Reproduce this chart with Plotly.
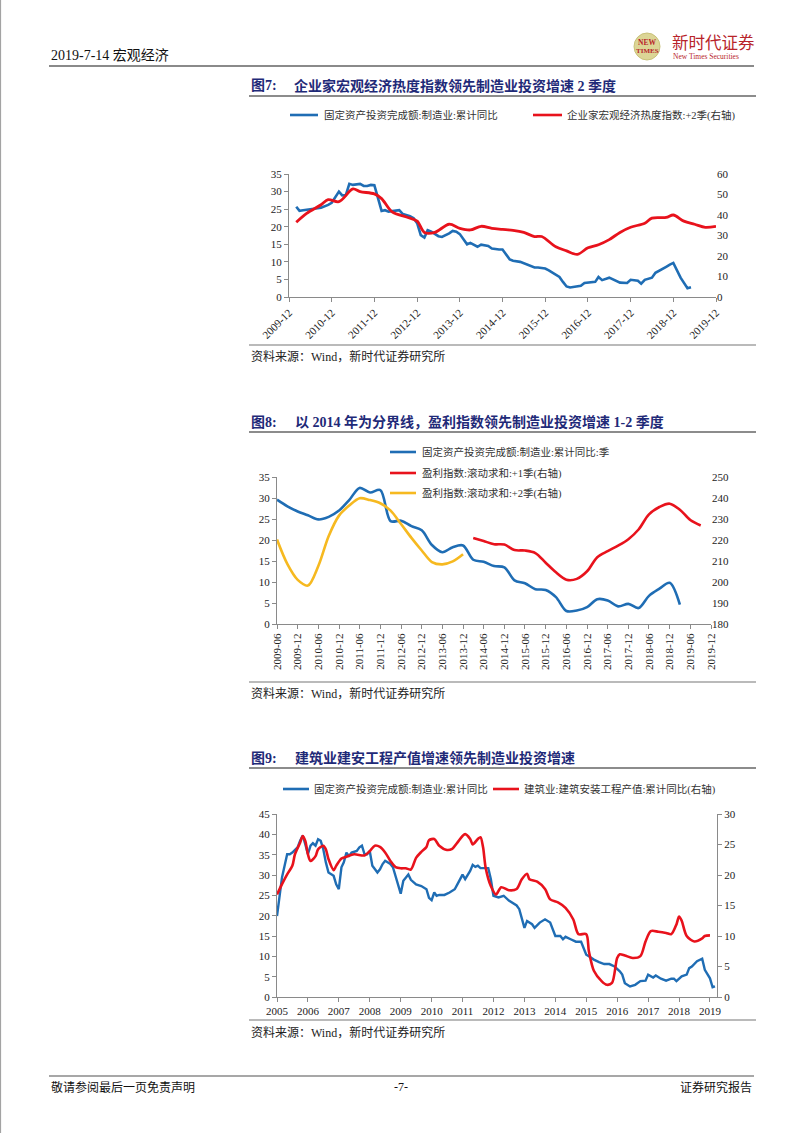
import plotly.graph_objects as go

W, H = 802, 1133

# ---------------- Chart 1 data (图7) ----------------
c1_fai_dates = ["2010-02", "2010-03", "2010-04", "2010-07", "2010-09", "2010-11", "2010-12", "2011-02",
                "2011-03", "2011-04", "2011-05", "2011-06", "2011-08", "2011-09", "2011-10", "2011-11",
                "2011-12", "2012-02", "2012-03", "2012-04", "2012-06", "2012-07", "2012-08", "2012-10",
                "2012-11", "2012-12", "2013-01", "2013-02", "2013-03", "2013-04", "2013-06", "2013-07",
                "2013-09", "2013-10", "2013-11", "2013-12", "2014-02", "2014-03", "2014-05", "2014-06",
                "2014-08", "2014-09", "2014-11", "2014-12", "2015-02", "2015-03", "2015-05", "2015-07",
                "2015-09", "2015-10", "2015-12", "2016-01", "2016-03", "2016-04", "2016-05", "2016-06",
                "2016-07", "2016-09", "2016-10", "2016-11", "2017-01", "2017-02", "2017-03", "2017-04",
                "2017-06", "2017-08", "2017-09", "2017-11", "2017-12", "2018-02", "2018-03", "2018-04",
                "2018-06", "2018-07", "2018-08", "2018-10", "2018-11", "2018-12", "2019-02", "2019-03",
                "2019-04", "2019-05"]
c1_fai = [25.7, 24.5, 24.7, 25.0, 25.4, 26.2, 26.8, 30.0,
          28.9, 29.0, 32.2, 31.9, 32.2, 31.6, 31.6, 31.9,
          31.8, 24.5, 24.7, 24.3, 24.5, 24.7, 23.6, 23.0,
          22.4, 21.0, 17.6, 16.9, 19.0, 18.6, 17.3, 17.1,
          18.1, 18.8, 18.6, 17.9, 15.0, 15.4, 14.3, 14.9,
          14.5, 13.8, 13.5, 13.5, 10.7, 10.3, 10.0, 9.2,
          8.4, 8.4, 8.1, 7.6, 6.2, 5.7, 4.3, 3.0,
          2.7, 2.9, 3.2, 4.0, 4.3, 4.3, 5.7, 4.8,
          5.5, 4.6, 4.1, 4.0, 4.9, 4.6, 3.8, 4.9,
          5.5, 6.9, 7.4, 8.6, 9.2, 9.7, 5.5, 4.0,
          2.5, 2.8]
c1_heat_dates = ["2010-02", "2010-05", "2010-09", "2010-11", "2011-02", "2011-06", "2011-08", "2011-12",
                 "2012-02", "2012-05", "2012-09", "2012-12", "2013-02", "2013-05", "2013-09", "2013-12",
                 "2014-03", "2014-06", "2014-09", "2014-12", "2015-03", "2015-06", "2015-09", "2015-11",
                 "2016-03", "2016-06", "2016-09", "2016-12", "2017-03", "2017-06", "2017-09", "2017-12",
                 "2018-04", "2018-06", "2018-10", "2018-12", "2019-03", "2019-06", "2019-09", "2019-12"]
c1_heat = [36.5, 40.8, 45.0, 47.5, 46.5, 52.7, 51.4, 50.3,
           48.0, 41.5, 39.0, 37.0, 31.5, 31.5, 35.5, 33.5,
           32.7, 34.5, 33.5, 33.0, 32.5, 31.5, 29.5, 29.5,
           24.5, 22.5, 20.8, 24.0, 25.5, 28.0, 31.5, 34.0,
           36.0, 38.5, 38.8, 40.0, 37.0, 35.5, 34.0, 34.5]

# ---------------- Chart 2 data (图8) ----------------
c2_fai_dates = ["2009-06", "2009-09", "2009-12", "2010-03", "2010-06", "2010-09", "2010-12", "2011-03",
                "2011-06", "2011-09", "2011-12", "2012-03", "2012-06", "2012-09", "2012-12", "2013-03",
                "2013-06", "2013-09", "2013-12", "2014-03", "2014-06", "2014-09", "2014-12", "2015-03",
                "2015-06", "2015-09", "2015-12", "2016-03", "2016-06", "2016-09", "2016-12", "2017-03",
                "2017-06", "2017-09", "2017-12", "2018-03", "2018-06", "2018-09", "2018-12", "2019-03"]
c2_fai = [29.6, 28.0, 26.8, 25.9, 24.9, 25.5, 27.0, 29.5,
          32.4, 31.3, 31.9, 24.5, 24.6, 23.3, 22.3, 18.8,
          17.1, 18.3, 18.7, 15.3, 14.8, 13.8, 13.5, 10.4,
          9.7, 8.3, 8.1, 6.4, 3.1, 3.2, 4.0, 5.9,
          5.6, 4.2, 4.8, 3.8, 6.7, 8.4, 9.8, 4.6]
c2_profit2_dates = ["2009-06", "2009-09", "2009-12", "2010-03", "2010-06", "2010-09", "2010-12", "2011-03",
                    "2011-06", "2011-09", "2011-12", "2012-03", "2012-06", "2012-09", "2012-12", "2013-03",
                    "2013-06", "2013-09", "2013-12"]
c2_profit2 = [220.2, 208.5, 201.0, 198.3, 207.6, 221.9, 231.6, 236.4,
              239.9, 239.0, 237.5, 234.0, 227.6, 221.0, 215.0, 209.5,
              208.4, 209.8, 213.2]
c2_profit1_dates = ["2014-03", "2014-06", "2014-09", "2014-12", "2015-03", "2015-06", "2015-09", "2015-12",
                    "2016-03", "2016-06", "2016-09", "2016-12", "2017-03", "2017-06", "2017-09", "2017-12",
                    "2018-03", "2018-06", "2018-09", "2018-12", "2019-03", "2019-06", "2019-09"]
c2_profit1 = [221.0, 219.5, 218.0, 217.8, 215.2, 215.0, 213.8, 209.2,
              204.6, 201.1, 201.5, 205.1, 211.8, 214.7, 217.3, 220.4,
              225.0, 232.2, 235.7, 237.3, 234.4, 229.5, 226.9]

# ---------------- Chart 3 data (图9) ----------------
c3_fai_dates = ["2005-01", "2005-02", "2005-03", "2005-05", "2005-06", "2005-07", "2005-09", "2005-10",
                "2005-11", "2005-12", "2006-01", "2006-02", "2006-03", "2006-04", "2006-05", "2006-06",
                "2006-07", "2006-08", "2006-09", "2006-11", "2006-12", "2007-01", "2007-02", "2007-03",
                "2007-04", "2007-05", "2007-06", "2007-08", "2007-09", "2007-10", "2007-11", "2007-12",
                "2008-01", "2008-02", "2008-04", "2008-05", "2008-06", "2008-07", "2008-09", "2008-10",
                "2008-11", "2009-01", "2009-02", "2009-04", "2009-05", "2009-07", "2009-09", "2009-11",
                "2009-12", "2010-01", "2010-02", "2010-03", "2010-04", "2010-06", "2010-08", "2010-10",
                "2010-11", "2011-01", "2011-02", "2011-04", "2011-05", "2011-06", "2011-07", "2011-08",
                "2011-10", "2011-11", "2011-12", "2012-01", "2012-03", "2012-05", "2012-07", "2012-10",
                "2012-11", "2013-01", "2013-02", "2013-04", "2013-05", "2013-07", "2013-09", "2013-11",
                "2014-01", "2014-03", "2014-04", "2014-05", "2014-07", "2014-09", "2014-11", "2015-01",
                "2015-02", "2015-04", "2015-06", "2015-08", "2015-10", "2015-12", "2016-02", "2016-03",
                "2016-04", "2016-06", "2016-08", "2016-10", "2016-12", "2017-01", "2017-03", "2017-04",
                "2017-06", "2017-08", "2017-10", "2017-11", "2017-12", "2018-02", "2018-04", "2018-05",
                "2018-06", "2018-08", "2018-10", "2018-11", "2019-01", "2019-02", "2019-03"]
c3_fai = [19.9, 25.3, 29.4, 35.1, 35.1, 35.5, 36.8, 38.4,
          39.7, 37.6, 35.1, 37.2, 37.8, 37.2, 38.8, 38.4,
          36.4, 33.1, 30.6, 29.8, 27.7, 26.5, 31.9, 33.1,
          35.5, 34.7, 35.5, 35.9, 36.8, 37.2, 35.1, 35.1,
          35.9, 32.3, 30.6, 31.4, 32.7, 33.5, 32.7, 31.9,
          29.8, 25.4, 28.6, 30.1, 28.8, 27.7, 27.3, 26.5,
          24.4, 23.8, 25.7, 24.9, 25.1, 25.1, 25.7, 26.5,
          27.7, 30.1, 29.0, 31.0, 32.5, 32.0, 32.3, 31.7,
          31.7, 31.7, 29.0, 24.9, 24.5, 24.9, 23.7, 22.5,
          21.6, 17.0, 18.7, 17.9, 17.0, 18.3, 19.1, 18.3,
          15.0, 15.0, 14.2, 14.8, 14.2, 13.6, 13.6, 10.4,
          10.0, 9.2, 8.6, 8.1, 8.1, 7.5, 6.3, 5.5,
          3.4, 2.6, 3.0, 3.9, 4.0, 5.5, 4.8, 5.3,
          4.5, 4.0, 4.5, 4.5, 3.9, 5.1, 5.5, 7.1,
          7.5, 8.8, 9.4, 6.7, 4.6, 2.4, 2.6]
c3_cons_dates = ["2005-01", "2005-03", "2005-05", "2005-07", "2005-08", "2005-10", "2005-11", "2005-12",
                 "2006-01", "2006-02", "2006-04", "2006-05", "2006-07", "2006-08", "2006-09", "2006-11",
                 "2006-12", "2007-02", "2007-04", "2007-07", "2007-11", "2008-01", "2008-03", "2008-05",
                 "2008-07", "2008-09", "2008-11", "2009-01", "2009-03", "2009-05", "2009-07", "2009-09",
                 "2009-11", "2009-12", "2010-02", "2010-04", "2010-07", "2010-09", "2010-11", "2011-01",
                 "2011-02", "2011-04", "2011-05", "2011-07", "2011-08", "2011-09", "2011-10", "2011-12",
                 "2012-02", "2012-04", "2012-07", "2012-10", "2012-12", "2013-02", "2013-03", "2013-06",
                 "2013-09", "2013-11", "2014-02", "2014-05", "2014-08", "2014-10", "2015-01", "2015-02",
                 "2015-04", "2015-07", "2015-09", "2015-11", "2016-01", "2016-02", "2016-04", "2016-07",
                 "2016-10", "2016-12", "2017-02", "2017-05", "2017-08", "2017-10", "2017-12", "2018-01",
                 "2018-02", "2018-04", "2018-07", "2018-10", "2018-11", "2019-01"]
c3_cons = [16.8, 18.5, 20.1, 21.5, 23.4, 25.3, 26.4, 25.6,
           23.4, 22.3, 23.1, 24.2, 24.8, 24.2, 22.6, 20.8,
           21.5, 22.7, 23.0, 23.4, 23.2, 23.9, 24.8, 24.6,
           23.7, 22.3, 21.3, 21.1, 21.1, 20.9, 22.8, 23.8,
           24.6, 25.7, 25.9, 24.8, 24.1, 24.3, 25.3, 26.4,
           26.7, 25.9, 25.0, 25.9, 26.2, 24.5, 21.2, 18.2,
           16.8, 18.0, 17.5, 17.7, 19.3, 20.2, 19.3, 18.9,
           17.7, 16.0, 15.5, 14.6, 12.7, 10.3, 10.3, 7.5,
           4.3, 2.6, 2.0, 2.3, 6.4, 7.0, 6.8, 6.4,
           6.7, 9.1, 10.8, 10.7, 10.5, 10.3, 11.9, 13.2,
           12.5, 10.0, 9.1, 9.6, 10.0, 10.1]

# ---------------- styling ----------------
BLUE = "#1F6DB4"
RED = "#E8121C"
YELLOW = "#F6B920"
NAVY = "#1F2A78"
AXIS = "#8A8A8A"
TXT = "#222222"
SERIF = "Liberation Serif, Noto Sans CJK SC, serif"
CJK = "Liberation Serif, Noto Sans CJK SC"


def px(x):
    return x / W


def py(y):
    return 1 - y / H


fig = go.Figure()

fig.add_trace(go.Scatter(x=c1_fai_dates, y=c1_fai, mode="lines", line=dict(color=BLUE, width=2.6),
                         xaxis="x", yaxis="y", showlegend=False))
fig.add_trace(go.Scatter(x=c1_heat_dates, y=c1_heat, mode="lines", line=dict(color=RED, width=2.8, shape="spline", smoothing=0.9),
                         xaxis="x", yaxis="y2", showlegend=False))
fig.add_trace(go.Scatter(x=c2_fai_dates, y=c2_fai, mode="lines", line=dict(color=BLUE, width=2.6, shape="spline", smoothing=0.9),
                         xaxis="x2", yaxis="y3", showlegend=False))
fig.add_trace(go.Scatter(x=c2_profit1_dates, y=c2_profit1, mode="lines", line=dict(color=RED, width=2.6, shape="spline", smoothing=0.9),
                         xaxis="x2", yaxis="y4", showlegend=False))
fig.add_trace(go.Scatter(x=c2_profit2_dates, y=c2_profit2, mode="lines", line=dict(color=YELLOW, width=2.6, shape="spline", smoothing=0.9),
                         xaxis="x2", yaxis="y4", showlegend=False))
fig.add_trace(go.Scatter(x=c3_fai_dates, y=c3_fai, mode="lines", line=dict(color=BLUE, width=2.4),
                         xaxis="x3", yaxis="y5", showlegend=False))
fig.add_trace(go.Scatter(x=c3_cons_dates, y=c3_cons, mode="lines", line=dict(color=RED, width=2.6, shape="spline", smoothing=0.8),
                         xaxis="x3", yaxis="y6", showlegend=False))

tickfont = dict(family=SERIF, size=11, color=TXT)


def xax(domain, anchor, rng, tick0, fmt, angle):
    return dict(domain=domain, anchor=anchor, type="date", range=rng, tick0=tick0, dtick="M12" if angle != -90 else "M6",
                tickformat=fmt, tickangle=angle, ticks="outside", ticklen=4, tickcolor=AXIS,
                showline=True, linecolor=AXIS, linewidth=1, showgrid=False, zeroline=False,
                tickfont=tickfont, fixedrange=True, automargin=False)


def yax(domain, anchor, rng, dtick, line=True, side="left", overlay=None):
    d = dict(anchor=anchor, range=rng, dtick=dtick, tick0=rng[0], side=side,
             ticks="outside" if line else "", ticklen=4, tickcolor=AXIS,
             showline=line, linecolor=AXIS, linewidth=1, showgrid=False, zeroline=False,
             tickfont=tickfont, fixedrange=True, automargin=False)
    if overlay:
        d["overlaying"] = overlay
    else:
        d["domain"] = domain
    return d


layout = dict(
    width=W, height=H, margin=dict(l=0, r=0, t=0, b=0, pad=0, autoexpand=False), autosize=False,
    paper_bgcolor="white", plot_bgcolor="white", showlegend=False,
    font=dict(family=CJK, color=TXT),
    xaxis=xax([px(289), px(716)], "y", ["2009-12-01", "2019-12-01"], "2009-12-01", "%Y-%m", -45),
    yaxis=yax([py(297), py(174)], "x", [0, 35], 5),
    yaxis2=yax(None, "x", [0, 60], 10, line=False, side="right", overlay="y"),
    xaxis2=xax([px(277), px(711)], "y3", ["2009-06-01", "2019-12-01"], "2009-06-01", "%Y-%m", -90),
    yaxis3=yax([py(624), py(477)], "x2", [0, 35], 5),
    yaxis4=yax(None, "x2", [180, 250], 10, line=False, side="right", overlay="y3"),
    xaxis3=xax([px(277), px(717)], "y5", ["2005-01-01", "2019-03-25"], "2005-01-01", "%Y", 0),
    yaxis5=yax([py(997), py(814)], "x3", [0, 45], 5),
    yaxis6=yax(None, "x3", [0, 30], 5, line=True, side="right", overlay="y5"),
)
fig.update_layout(**layout)

shapes = []
annots = []


def hline(x0, x1, y, color="#777777", width=1.0):
    shapes.append(dict(type="line", xref="paper", yref="paper", x0=px(x0), x1=px(x1), y0=py(y), y1=py(y),
                       line=dict(color=color, width=width)))


def text(x, y, s, size=12, color=TXT, anchor="left", family=CJK, vanchor="middle"):
    annots.append(dict(xref="paper", yref="paper", x=px(x), y=py(y), text=s, showarrow=False,
                       xanchor=anchor, yanchor=vanchor, font=dict(family=family, size=size, color=color)))


def legend_item(x0, x1, y, color, label, tx):
    shapes.append(dict(type="line", xref="paper", yref="paper", x0=px(x0), x1=px(x1), y0=py(y), y1=py(y),
                       line=dict(color=color, width=2.6)))
    text(tx, y, label, size=10.5, color="#333333")


# page border
shapes.append(dict(type="line", xref="paper", yref="paper", x0=px(0.6), x1=px(0.6), y0=0, y1=1,
                   line=dict(color="#9a9a9a", width=1)))

# header
text(49, 56, "2019-7-14 宏观经济", size=14, color="#111111")
shapes.append(dict(type="circle", xref="paper", yref="paper", x0=px(634), x1=px(660), y0=py(60), y1=py(33),
                   fillcolor="#DCD596", line=dict(color="#C9C27A", width=1)))
text(647, 42, "<b>NEW</b>", size=7.5, color="#B8242A", anchor="center")
text(647, 51, "<b>TIMES</b>", size=7, color="#B8242A", anchor="center")
text(670, 42, "新时代证券", size=16.5, color="#B8242A", family="Noto Sans CJK SC")
text(671, 57, "New Times Securities", size=7.5, color="#B8242A", family="Liberation Serif")
hline(49, 754, 66, color="#8a8a8a", width=1.8)

# chart 1 captions
text(249, 86, "<b>图7:</b>", size=14, color=NAVY)
text(292, 86, "<b>企业家宏观经济热度指数领先制造业投资增速 2 季度</b>", size=14, color=NAVY)
hline(249, 756, 96, color="#666666", width=1.6)
legend_item(290, 318, 115, BLUE, "固定资产投资完成额:制造业:累计同比", 322)
legend_item(533, 562, 115, RED, "企业家宏观经济热度指数:+2季(右轴)", 565)
hline(249, 756, 345, color="#777777", width=1.2)
text(249, 357, "资料来源：Wind，新时代证券研究所", size=12, color="#222222")

# chart 2 captions
text(249, 422, "<b>图8:</b>", size=14, color=NAVY)
text(293, 422, "<b>以 2014 年为分界线，盈利指数领先制造业投资增速 1-2 季度</b>", size=14, color=NAVY)
hline(249, 756, 432, color="#666666", width=1.6)
legend_item(390, 416, 452, BLUE, "固定资产投资完成额:制造业:累计同比:季", 420)
legend_item(390, 416, 473, RED, "盈利指数:滚动求和:+1季(右轴)", 420)
legend_item(390, 416, 493, YELLOW, "盈利指数:滚动求和:+2季(右轴)", 420)
hline(249, 756, 682, color="#777777", width=1.2)
text(249, 693, "资料来源：Wind，新时代证券研究所", size=12, color="#222222")

# chart 3 captions
text(249, 758, "<b>图9:</b>", size=14, color=NAVY)
text(293, 758, "<b>建筑业建安工程产值增速领先制造业投资增速</b>", size=14, color=NAVY)
hline(249, 756, 768, color="#666666", width=1.6)
legend_item(283, 309, 789, BLUE, "固定资产投资完成额:制造业:累计同比", 312)
legend_item(493, 519, 789, RED, "建筑业:建筑安装工程产值:累计同比(右轴)", 522)
hline(249, 756, 1020, color="#777777", width=1.2)
text(249, 1032, "资料来源：Wind，新时代证券研究所", size=12, color="#222222")

# footer
hline(49, 754, 1076, color="#8a8a8a", width=1.5)
text(49, 1087, "敬请参阅最后一页免责声明", size=12, color="#111111")
text(401, 1087, "-7-", size=12, color="#111111", anchor="center")
text(754, 1087, "证券研究报告", size=12, color="#111111", anchor="right")

fig.update_layout(shapes=shapes, annotations=annots)
fig.write_html(
    "out.html",
    config={"displayModeBar": False, "staticPlot": True},
    post_script="document.documentElement.style.margin='0';document.body.style.margin='0';"
                "document.body.style.padding='0';document.body.style.overflow='hidden';",
)
